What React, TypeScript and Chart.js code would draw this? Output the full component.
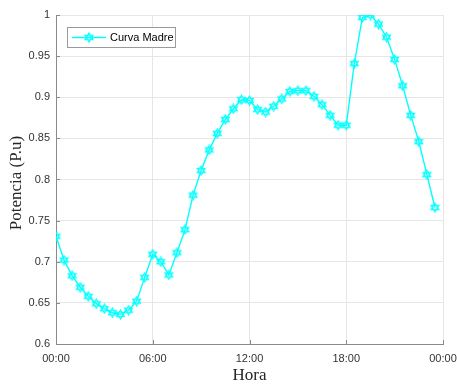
import React, { useEffect, useRef } from "react";
import { Chart, registerables } from "chart.js";

Chart.register(...registerables);

// Half-hour time stamps of the daily load profile
const horas: string[] = [
  "00:00", "00:30", "01:00", "01:30", "02:00", "02:30", "03:00", "03:30",
  "04:00", "04:30", "05:00", "05:30", "06:00", "06:30", "07:00", "07:30",
  "08:00", "08:30", "09:00", "09:30", "10:00", "10:30", "11:00", "11:30",
  "12:00", "12:30", "13:00", "13:30", "14:00", "14:30", "15:00", "15:30",
  "16:00", "16:30", "17:00", "17:30", "18:00", "18:30", "19:00", "19:30",
  "20:00", "20:30", "21:00", "21:30", "22:00", "22:30", "23:00", "23:30",
];

// Power in per-unit for each time stamp
const curvaMadre: number[] = [
  0.731, 0.702, 0.683, 0.669, 0.658, 0.649, 0.643, 0.638,
  0.636, 0.641, 0.652, 0.681, 0.709, 0.700, 0.684, 0.711,
  0.739, 0.781, 0.811, 0.836, 0.856, 0.873, 0.886, 0.897,
  0.896, 0.885, 0.882, 0.889, 0.898, 0.907, 0.908, 0.908,
  0.901, 0.891, 0.878, 0.866, 0.866, 0.941, 0.997, 1.0,
  0.989, 0.973, 0.946, 0.914, 0.878, 0.846, 0.806, 0.766,
];

const yTicks: number[] = [0.6, 0.65, 0.7, 0.75, 0.8, 0.85, 0.9, 0.95, 1];
const xTickHours: number[] = [0, 6, 12, 18, 24];

const CYAN = "#00FFFF";
const SANS = "'Liberation Sans', Arial, sans-serif";
const SERIF = "'Liberation Serif', 'Times New Roman', serif";

const toHours = (t: string) => {
  const [h, m] = t.split(":").map(Number);
  return h + m / 60;
};

const formatHour = (h: number) => {
  const hh = Math.round(h) % 24;
  return `${hh.toString().padStart(2, "0")}:00`;
};

function traceHexagram(ctx: CanvasRenderingContext2D, cx: number, cy: number, r: number) {
  for (let t = 0; t < 2; t++) {
    ctx.beginPath();
    for (let i = 0; i < 3; i++) {
      const a = -Math.PI / 2 + t * Math.PI + (i * 2 * Math.PI) / 3;
      const px = cx + r * Math.cos(a);
      const py = cy + r * Math.sin(a);
      if (i === 0) ctx.moveTo(px, py);
      else ctx.lineTo(px, py);
    }
    ctx.closePath();
    ctx.stroke();
  }
}

function makeHexagram(size: number): HTMLCanvasElement {
  const c = document.createElement("canvas");
  c.width = size;
  c.height = size;
  const ctx = c.getContext("2d")!;
  ctx.strokeStyle = CYAN;
  ctx.lineWidth = 1.2;
  traceHexagram(ctx, size / 2, size / 2, size / 2 - 1);
  return c;
}

// Inward tick marks, axis titles and the boxed legend
const decorPlugin = {
  id: "decor",
  afterDraw(chart: any) {
    const { ctx, chartArea } = chart;
    const { left, right, bottom } = chartArea;
    const xs = chart.scales.x;
    const ys = chart.scales.y;
    ctx.save();

    ctx.strokeStyle = "#8a8a8a";
    ctx.lineWidth = 1;
    ctx.beginPath();
    xTickHours.forEach((h) => {
      const px = Math.round(xs.getPixelForValue(h)) + 0.5;
      ctx.moveTo(px, bottom);
      ctx.lineTo(px, bottom - 4);
    });
    yTicks.forEach((v) => {
      const py = Math.round(ys.getPixelForValue(v)) + 0.5;
      ctx.moveTo(left, py);
      ctx.lineTo(left + 4, py);
    });
    ctx.stroke();

    // Axis titles
    ctx.fillStyle = "#262626";
    ctx.font = `17px ${SERIF}`;
    ctx.textAlign = "center";
    ctx.textBaseline = "middle";
    ctx.fillText("Hora", (left + right) / 2, 376);
    ctx.save();
    ctx.translate(17, 183);
    ctx.rotate(-Math.PI / 2);
    ctx.fillText("Potencia (P.u)", 0, 0);
    ctx.restore();

    // Legend
    const bx = 67.5, by = 27.5, bw = 108, bh = 20;
    ctx.fillStyle = "#ffffff";
    ctx.fillRect(bx, by, bw, bh);
    ctx.strokeStyle = "#9a9a9a";
    ctx.lineWidth = 1;
    ctx.strokeRect(bx, by, bw, bh);
    const ly = by + bh / 2;
    ctx.strokeStyle = CYAN;
    ctx.lineWidth = 1.3;
    ctx.beginPath();
    ctx.moveTo(72, ly);
    ctx.lineTo(106, ly);
    ctx.stroke();
    ctx.lineWidth = 1.2;
    traceHexagram(ctx, 89, ly, 4.5);
    ctx.fillStyle = "#000000";
    ctx.font = `11px ${SANS}`;
    ctx.textAlign = "left";
    ctx.textBaseline = "middle";
    ctx.fillText("Curva Madre", 110, ly + 0.5);

    ctx.restore();
  },
};

export default function App() {
  const canvasRef = useRef<HTMLCanvasElement | null>(null);

  useEffect(() => {
    if (!canvasRef.current) return;
    const marker = makeHexagram(11);
    const points = horas.map((t, i) => ({ x: toHours(t), y: curvaMadre[i] }));

    const chart = new Chart(canvasRef.current, {
      type: "line",
      data: {
        datasets: [
          {
            label: "Curva Madre",
            data: points,
            borderColor: CYAN,
            backgroundColor: CYAN,
            borderWidth: 1.4,
            pointStyle: marker as any,
            pointRadius: 5,
            pointHoverRadius: 5,
            tension: 0,
          },
        ],
      },
      options: {
        animation: false,
        responsive: false,
        maintainAspectRatio: false,
        layout: { padding: { left: 0, right: 14, top: 15, bottom: 0 } },
        plugins: {
          legend: { display: false },
          tooltip: { enabled: false },
        },
        scales: {
          x: {
            type: "linear",
            min: 0,
            max: 24,
            afterBuildTicks: (scale: any) => {
              scale.ticks = xTickHours.map((v) => ({ value: v }));
            },
            afterFit: (scale: any) => {
              scale.height = 41;
              scale.paddingLeft = 0;
              scale.paddingRight = 0;
            },
            ticks: {
              callback: (v: any) => formatHour(Number(v)),
              font: { family: SANS, size: 11 },
              color: "#333333",
              padding: 8,
              maxRotation: 0,
            },
            grid: { color: "#e6e6e6", drawTicks: false },
            border: { color: "#8a8a8a" },
          },
          y: {
            min: 0.6,
            max: 1,
            afterBuildTicks: (scale: any) => {
              scale.ticks = yTicks.map((v) => ({ value: v }));
            },
            afterFit: (scale: any) => {
              scale.width = 56;
              scale.paddingTop = 0;
              scale.paddingBottom = 0;
            },
            ticks: {
              callback: (v: any) => String(Number(Number(v).toFixed(2))),
              font: { family: SANS, size: 11 },
              color: "#333333",
              padding: 6,
            },
            grid: { color: "#e6e6e6", drawTicks: false },
            border: { color: "#8a8a8a" },
          },
        },
      },
      plugins: [decorPlugin],
    });
    return () => chart.destroy();
  }, []);

  return (
    <div style={{ position: "fixed", left: 0, top: 0, width: 457, height: 385, background: "#ffffff" }}>
      <canvas ref={canvasRef} width={457} height={385} style={{ width: 457, height: 385 }} />
    </div>
  );
}
